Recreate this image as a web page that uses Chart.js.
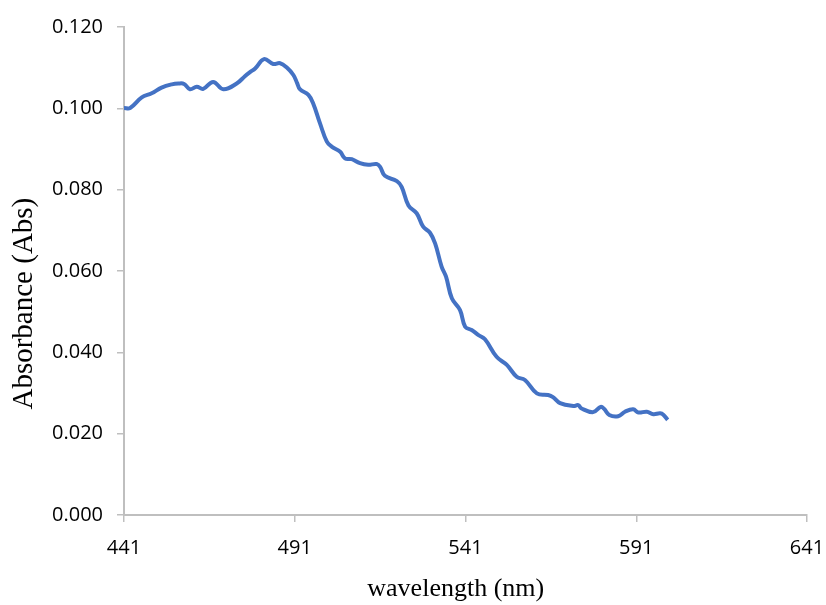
<!DOCTYPE html>
<html>
<head>
<meta charset="utf-8">
<script src="https://cdn.jsdelivr.net/npm/chart.js@4/dist/chart.umd.min.js"></script>
<style>
  html, body { margin: 0; padding: 0; background: #fff; }
  #wrap { width: 826px; height: 605px; }
</style>
</head>
<body>
<div id="wrap"><canvas id="graph" width="826" height="605"></canvas></div>
<script>
// wavelength (nm)
var wavelength = [441.0, 442.8, 446.2, 449.1, 452.0, 455.0, 456.9, 458.6, 460.3, 462.3,
    464.2, 467.1, 470.1, 474.0, 476.4, 477.9, 479.4, 482.0, 484.7, 486.7,
    488.6, 490.6, 491.7, 492.5, 495.0, 496.4, 498.4, 500.4, 501.8, 504.3,
    505.7, 507.7, 510.1, 512.5, 515.0, 516.0, 517.4, 520.9, 522.3, 524.3,
    526.7, 528.6, 530.6, 532.1, 534.0, 535.3, 537.0, 539.4, 540.9, 542.8,
    544.7, 546.7, 550.1, 553.1, 556.0, 558.4, 561.9, 565.2, 566.6, 568.7,
    572.6, 574.0, 575.0, 578.4, 580.6, 581.6, 583.1, 585.7, 587.7, 590.1,
    591.6, 594.1, 596.0, 598.0, 599.0, 600.2];
// absorbance (Abs)
var absorbance = [0.1001, 0.1001, 0.1027, 0.1037, 0.1051, 0.1059, 0.1061, 0.1060, 0.1047, 0.1053,
    0.1048, 0.1065, 0.1047, 0.1061, 0.1079, 0.1089, 0.1098, 0.1121, 0.1109, 0.1111,
    0.1101, 0.1082, 0.1062, 0.1047, 0.1033, 0.1012, 0.0963, 0.0918, 0.0906, 0.0893,
    0.0877, 0.0875, 0.0865, 0.0861, 0.0863, 0.0856, 0.0834, 0.0821, 0.0807, 0.0761,
    0.0742, 0.0709, 0.0694, 0.0668, 0.0611, 0.0586, 0.0533, 0.0504, 0.0463, 0.0455,
    0.0443, 0.0432, 0.0389, 0.0369, 0.0340, 0.0332, 0.0299, 0.0295, 0.0290, 0.0275,
    0.0268, 0.0270, 0.0262, 0.0253, 0.0266, 0.0261, 0.0246, 0.0243, 0.0254, 0.0260,
    0.0252, 0.0254, 0.0248, 0.0250, 0.0246, 0.0234];
var xTicks = [441, 491, 541, 591, 641];
var yTicks = [0, 0.02, 0.04, 0.06, 0.08, 0.10, 0.12];

var points = wavelength.map(function (w, i) { return { x: w, y: absorbance[i] }; });
var axisGrey = '#bfbfbf';
var nb = '\u00a0';

var canvas = document.querySelector('#graph');
var context = canvas.getContext('2d');

new Chart(context, {
    type: 'line',
    data: {
        datasets: [{
            label: 'Abs',
            data: points,
            borderColor: '#4472C4',
            borderWidth: 4,
            pointRadius: 0,
            tension: 0.4,
            fill: false
        }]
    },
    options: {
        responsive: false,
        animation: false,
        layout: { padding: { top: 27, right: 0, left: 0, bottom: 0 } },
        plugins: { legend: { display: false }, tooltip: { enabled: false } },
        scales: {
            x: {
                type: 'linear',
                min: xTicks[0],
                max: xTicks[xTicks.length - 1],
                afterBuildTicks: function (scale) {
                    scale.ticks = xTicks.map(function (v) { return { value: v }; });
                },
                afterFit: function (scale) {
                    scale.height = 90;
                    scale.paddingLeft = 0;
                    scale.paddingRight = 19;
                },
                grid: { drawOnChartArea: false, color: axisGrey, tickLength: 7, lineWidth: 1.5 },
                border: { color: axisGrey, width: 2 },
                ticks: {
                    color: '#000',
                    padding: 14,
                    font: { family: 'Open Sans', size: 20 },
                    maxRotation: 0
                },
                title: {
                    display: true,
                    text: 'wavelength (nm)' + nb + nb + nb,
                    color: '#000',
                    font: { family: 'Liberation Serif', size: 26 },
                    padding: { top: 10, bottom: 0 }
                }
            },
            y: {
                min: yTicks[0],
                max: yTicks[yTicks.length - 1],
                afterBuildTicks: function (scale) {
                    scale.ticks = yTicks.map(function (v) { return { value: v }; });
                },
                afterFit: function (scale) { scale.width = 124; },
                grid: { drawOnChartArea: false, color: axisGrey, tickLength: 7, lineWidth: 1.5 },
                border: { color: axisGrey, width: 2 },
                ticks: {
                    color: '#000',
                    padding: 14,
                    font: { family: 'Open Sans', size: 20 },
                    callback: function (v) { return Number(v).toFixed(3); }
                },
                title: {
                    display: true,
                    text: 'Absorbance (Abs)' + nb.repeat(9),
                    color: '#000',
                    font: { family: 'Liberation Serif', size: 29 },
                    padding: { top: 7, bottom: 0 }
                }
            }
        }
    }
});
</script>
</body>
</html>
